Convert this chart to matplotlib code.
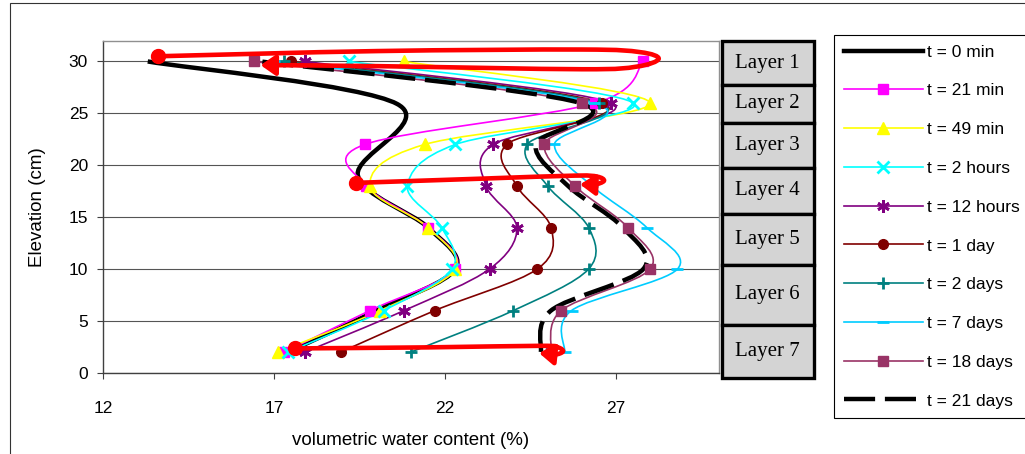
import numpy as np
import matplotlib
matplotlib.use('Agg')
import matplotlib.pyplot as plt
from matplotlib.path import Path
from matplotlib.patches import PathPatch, Rectangle, FancyArrowPatch
from matplotlib.lines import Line2D

# ---------------- data ----------------
elevation = [2, 6, 10, 14, 18, 22, 26, 30]
t0_elev = [2, 6, 10, 14, 19, 25.9, 30]
t0_vwc = [17.4, 20.0, 22.3, 21.5, 19.45, 20.6, 13.3]
t21min = [17.3, 19.8, 22.3, 21.5, 19.7, 19.65, 26.4, 27.8]
t49min = [17.1, 20.1, 22.3, 21.5, 19.8, 21.4, 28.0, 20.8]
t2h = [17.4, 20.2, 22.2, 21.9, 20.9, 22.3, 27.5, 19.2]
t12h = [17.9, 20.8, 23.3, 24.1, 23.2, 23.4, 26.85, 17.9]
t1d = [18.95, 21.7, 24.7, 25.1, 24.1, 23.8, 26.6, 17.5]
t2d = [21.0, 24.0, 26.2, 26.2, 25.0, 24.4, 26.5, 17.3]
t7d = [25.5, 25.7, 28.8, 27.9, 26.3, 25.2, 26.35, 17.0]
t18d = [25.1, 25.4, 28.0, 27.35, 25.8, 24.9, 26.0, 16.4]
t21d = [24.8, 25.1, 27.8, 27.2, 25.6, 24.65, 25.95, 16.6]

series_labels = ['t = 0 min', 't = 21 min', 't = 49 min', 't = 2 hours', 't = 12 hours',
                 't = 1 day', 't = 2 days', 't = 7 days', 't = 18 days', 't = 21 days']

# red annotation paths (water movement arrows)
arrow1_x = [13.6, 20.0, 26.0, 27.7, 28.25, 27.6, 26.0, 20.0, 16.6]
arrow1_y = [30.5, 31.0, 31.15, 30.9, 30.25, 29.5, 29.25, 29.55, 29.65]
arrow2_x = [19.4, 23.0, 25.8, 26.45, 26.65, 26.35, 25.95]
arrow2_y = [18.3, 18.7, 19.0, 18.9, 18.5, 18.1, 18.15]
arrow3_x = [17.6, 21.5, 24.8, 25.3, 25.45, 25.2, 24.75]
arrow3_y = [2.35, 2.45, 2.6, 2.45, 2.05, 1.75, 1.9]

layer_labels = ['Layer 1', 'Layer 2', 'Layer 3', 'Layer 4', 'Layer 5', 'Layer 6', 'Layer 7']

x_ticks = [12, 17, 22, 27]
y_ticks = [0, 5, 10, 15, 20, 25, 30]

# ---------------- figure ----------------
W, H = 1025, 454
fig = plt.figure(figsize=(W / 100, H / 100), dpi=100)
plt.rcParams['font.family'] = ['Liberation Sans', 'DejaVu Sans']

def fx(px):
    return px / W

def fy(py):
    return 1 - py / H

ax = fig.add_axes([fx(103.3), fy(372.8), fx(718.5) - fx(103.3), fy(40.7) - fy(372.8)])
ax.set_xlim(12, 30)
ax.set_ylim(0, 32)
ax.set_xticks(x_ticks)
ax.set_yticks(y_ticks)
ax.tick_params(axis='both', direction='out', length=4, width=0.8, color='#404040',
               labelsize=12.5)
ax.tick_params(axis='x', pad=16)
ax.tick_params(axis='y', pad=7)
for s in ['left', 'bottom']:
    ax.spines[s].set_color('#404040')
    ax.spines[s].set_linewidth(1.0)
for s in ['top', 'right']:
    ax.spines[s].set_color('#909090')
    ax.spines[s].set_linewidth(1.0)
ax.yaxis.grid(True, color='#555555', linewidth=0.8)
ax.set_axisbelow(True)
ax.set_xlabel('volumetric water content (%)', fontsize=13.5, labelpad=12)
ax.set_ylabel('Elevation (cm)', fontsize=13.5, labelpad=16)


def smooth_path(xs, ys):
    p = np.column_stack([xs, ys]).astype(float)
    n = len(p)
    verts = [p[0]]
    codes = [Path.MOVETO]
    for i in range(n - 1):
        p0 = p[i - 1] if i > 0 else p[i]
        p1 = p[i]
        p2 = p[i + 1]
        p3 = p[i + 2] if i + 2 < n else p[i + 1]
        c1 = p1 + (p2 - p0) / 6.0
        c2 = p2 - (p3 - p1) / 6.0
        verts += [c1, c2, p2]
        codes += [Path.CURVE4] * 3
    return Path(verts, codes)


styles = [
    dict(color='black', lw=3.2, marker=None, ms=0, ls='-'),
    dict(color='#FF00FF', lw=1.2, marker='s', ms=7, ls='-'),
    dict(color='#FFFF00', lw=1.2, marker='^', ms=8, ls='-'),
    dict(color='#00FFFF', lw=1.2, marker='x', ms=8, ls='-'),
    dict(color='#800080', lw=1.2, marker=(6, 2, 0), ms=9, ls='-'),
    dict(color='#800000', lw=1.2, marker='o', ms=7, ls='-'),
    dict(color='#008080', lw=1.2, marker='+', ms=9, ls='-'),
    dict(color='#00CCFF', lw=1.2, marker='_', ms=8, ls='-'),
    dict(color='#993366', lw=1.2, marker='s', ms=7, ls='-'),
    dict(color='black', lw=3.2, marker=None, ms=0, ls=(0, (7, 2.2))),
]

all_x = [t0_vwc, t21min, t49min, t2h, t12h, t1d, t2d, t7d, t18d, t21d]
all_y = [t0_elev] + [elevation] * 9

handles = []
for xs, ys, st, lab in zip(all_x, all_y, styles, series_labels):
    patch = PathPatch(smooth_path(xs, ys), fill=False, edgecolor=st['color'],
                      linewidth=st['lw'], linestyle=st['ls'], capstyle='butt', zorder=3)
    ax.add_patch(patch)
    if st['marker'] is not None:
        mew = 2.0 if st['marker'] in ('x', '+', '_', (6, 2, 0)) else 1.0
        ax.plot(xs, ys, linestyle='none', marker=st['marker'], markersize=st['ms'],
                color=st['color'], markeredgewidth=mew, zorder=4)
        handles.append(Line2D([], [], color=st['color'], lw=st['lw'], marker=st['marker'],
                              markersize=st['ms'], markeredgewidth=mew))
    else:
        handles.append(Line2D([], [], color=st['color'], lw=st['lw'], linestyle=st['ls']))

# red annotation arrows
for axs, ays in [(arrow1_x, arrow1_y), (arrow2_x, arrow2_y), (arrow3_x, arrow3_y)]:
    arr = FancyArrowPatch(path=smooth_path(axs, ays),
                          arrowstyle='-|>,head_length=0.55,head_width=0.38',
                          mutation_scale=16, color='#FF0000', linewidth=3.3,
                          joinstyle='round', capstyle='round', zorder=6)
    ax.add_patch(arr)
    ax.plot([axs[0]], [ays[0]], linestyle='none', marker='o', markersize=10,
            color='#FF0000', zorder=7)

# layer boxes
box_edges = [41.5, 85.0, 122.5, 168.0, 214.0, 265.0, 325.0, 377.5]
for i, lab in enumerate(layer_labels):
    top = box_edges[i]
    bot = box_edges[i + 1]
    rect = Rectangle((fx(721.5), fy(bot)), fx(813.5) - fx(721.5), fy(top) - fy(bot),
                     transform=fig.transFigure, facecolor='#D4D4D4', edgecolor='black',
                     linewidth=2.4, zorder=5)
    fig.patches.append(rect)
    fig.text(fx(767.5), fy((top + bot) / 2), lab, ha='center', va='center',
             fontsize=15, family=['Liberation Serif', 'DejaVu Serif'], zorder=6)

# legend
leg = fig.legend(handles, series_labels, loc='upper left',
                 bbox_to_anchor=(fx(834), fy(35)), bbox_transform=fig.transFigure,
                 frameon=True, fancybox=False, edgecolor='black', framealpha=1,
                 fontsize=12.5, handlelength=4.6, handletextpad=0.2,
                 labelspacing=1.36, borderpad=0.55, borderaxespad=0)
leg.get_frame().set_linewidth(0.8)

# outer frame
fig.patches.append(Rectangle((fx(10), fy(470)), 1.2, fy(3.5) - fy(470),
                             transform=fig.transFigure, fill=False,
                             edgecolor='#333333', linewidth=0.8))

fig.savefig('out.png', dpi=100)
